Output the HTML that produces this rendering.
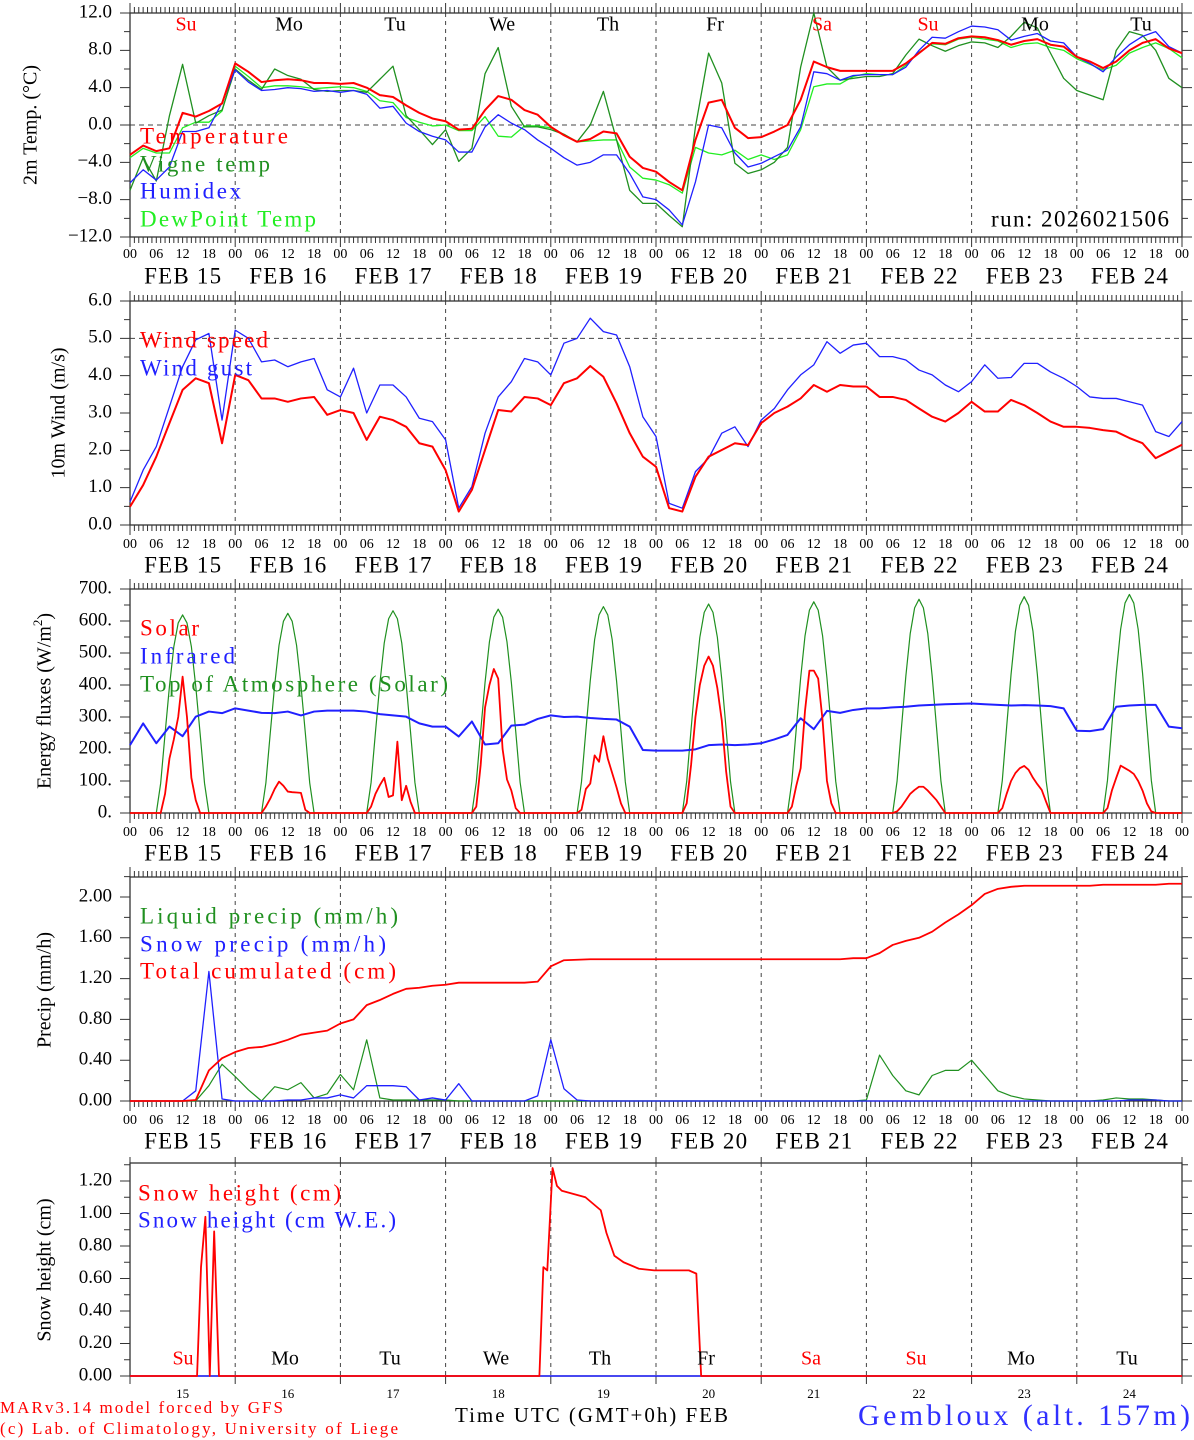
<!DOCTYPE html>
<html><head><meta charset="utf-8"><title>Meteogram Gembloux</title>
<style>
html,body{margin:0;padding:0;background:#fff;}
svg{display:block;font-family:"Liberation Serif",serif;}
</style></head>
<body>
<svg id="chart" width="1194" height="1440" viewBox="0 0 1194 1440" xmlns="http://www.w3.org/2000/svg">
<g id="grid"></g>
<g id="axes"></g>
<g id="series"></g>
<g id="labels" font-family="Liberation Serif, serif">
  <!-- Panel 1 -->
  <text x="32" y="125" transform="rotate(-90 32 125)" text-anchor="middle" dominant-baseline="middle" font-size="20">2m Temp. (°C)</text>
  <g font-size="20" dominant-baseline="middle" text-anchor="middle">
    <text x="186" y="26" fill="#f00">Su</text>
    <text x="289" y="26">Mo</text>
    <text x="395" y="26">Tu</text>
    <text x="502" y="26">We</text>
    <text x="608" y="26">Th</text>
    <text x="715" y="26">Fr</text>
    <text x="822" y="26" fill="#f00">Sa</text>
    <text x="928" y="26" fill="#f00">Su</text>
    <text x="1035" y="26">Mo</text>
    <text x="1141" y="26">Tu</text>
  </g>
  <g font-size="23" dominant-baseline="middle">
    <text x="140" y="138" fill="#f00" textLength="148" lengthAdjust="spacing">Temperature</text>
    <text x="140" y="166" fill="#209020" textLength="130" lengthAdjust="spacing">Vigne temp</text>
    <text x="140" y="193" fill="#2020ff" textLength="101" lengthAdjust="spacing">Humidex</text>
    <text x="140" y="221" fill="#22ee22" textLength="176" lengthAdjust="spacing">DewPoint Temp</text>
    <text x="991" y="221" fill="#000" textLength="178" lengthAdjust="spacing">run: 2026021506</text>
  </g>
  <!-- Panel 2 -->
  <text x="60" y="413" transform="rotate(-90 60 413)" text-anchor="middle" dominant-baseline="middle" font-size="20">10m Wind (m/s)</text>
  <g font-size="23" dominant-baseline="middle">
    <text x="140" y="342" fill="#f00" textLength="128" lengthAdjust="spacing">Wind speed</text>
    <text x="140" y="370" fill="#2020ff" textLength="112" lengthAdjust="spacing">Wind gust</text>
  </g>
  <!-- Panel 3 -->
  <text x="46" y="701" transform="rotate(-90 46 701)" text-anchor="middle" dominant-baseline="middle" font-size="20">Energy fluxes (W/m<tspan font-size="13" dy="-7">2</tspan><tspan dy="7">)</tspan></text>
  <g font-size="23" dominant-baseline="middle">
    <text x="140" y="630" fill="#f00" textLength="59" lengthAdjust="spacing">Solar</text>
    <text x="140" y="658" fill="#2020ff" textLength="95" lengthAdjust="spacing">Infrared</text>
    <text x="140" y="686" fill="#209020" textLength="308" lengthAdjust="spacing">Top of Atmosphere (Solar)</text>
  </g>
  <!-- Panel 4 -->
  <text x="46" y="990" transform="rotate(-90 46 990)" text-anchor="middle" dominant-baseline="middle" font-size="20">Precip (mm/h)</text>
  <g font-size="23" dominant-baseline="middle">
    <text x="140" y="918" fill="#209020" textLength="258" lengthAdjust="spacing">Liquid precip (mm/h)</text>
    <text x="140" y="946" fill="#2020ff" textLength="246" lengthAdjust="spacing">Snow precip (mm/h)</text>
    <text x="140" y="973" fill="#f00" textLength="256" lengthAdjust="spacing">Total cumulated (cm)</text>
  </g>
  <!-- Panel 5 -->
  <text x="46" y="1270" transform="rotate(-90 46 1270)" text-anchor="middle" dominant-baseline="middle" font-size="20">Snow height (cm)</text>
  <g font-size="23" dominant-baseline="middle">
    <text x="138" y="1195" fill="#f00" textLength="203" lengthAdjust="spacing">Snow height (cm)</text>
    <text x="138" y="1222" fill="#2020ff" textLength="258" lengthAdjust="spacing">Snow height (cm W.E.)</text>
  </g>
  <g font-size="20" dominant-baseline="middle" text-anchor="middle">
    <text x="183" y="1360" fill="#f00">Su</text>
    <text x="285" y="1360">Mo</text>
    <text x="390" y="1360">Tu</text>
    <text x="496" y="1360">We</text>
    <text x="600" y="1360">Th</text>
    <text x="706" y="1360">Fr</text>
    <text x="811" y="1360" fill="#f00">Sa</text>
    <text x="916" y="1360" fill="#f00">Su</text>
    <text x="1021" y="1360">Mo</text>
    <text x="1127" y="1360">Tu</text>
  </g>
  <text x="0" y="1409" fill="#f00" font-size="17" textLength="283" lengthAdjust="spacing" dominant-baseline="middle">MARv3.14 model forced by GFS</text>
  <text x="0" y="1430" fill="#f00" font-size="17" textLength="398" lengthAdjust="spacing" dominant-baseline="middle">(c) Lab. of Climatology, University of Liege</text>
  <text x="455" y="1417" font-size="21" textLength="273" lengthAdjust="spacing" dominant-baseline="middle">Time UTC (GMT+0h) FEB</text>
  <text x="858" y="1418" fill="#3030ff" font-size="30" textLength="332" lengthAdjust="spacing" dominant-baseline="middle">Gembloux (alt. 157m)</text>
</g>
</svg>
<script>
// ===== DATA (3-hourly, index 0 = FEB 15 00 UTC) =====
const dayNumbers = ["15","16","17","18","19","20","21","22","23","24"];
const hourLabels = ["00","06","12","18"];
const tempTicks = [12,8,4,0,-4,-8,-12];
const windTicks = [6,5,4,3,2,1,0];
const energyTicks = [700,600,500,400,300,200,100,0];
const precipTicks = [2.0,1.6,1.2,0.8,0.4,0.0];
const snowTicks = [1.2,1.0,0.8,0.6,0.4,0.2,0.0];

const temperature = [-3.2,-2.2,-2.8,-2.5,1.3,0.9,1.5,2.3,6.6,
 5.7,4.6,4.8,4.9,4.8,4.5,4.5,4.4,
 4.5,4.0,3.2,3.0,2.1,1.3,0.7,0.4,
 -0.5,-0.4,1.6,3.1,2.7,1.6,1.1,-0.2,
 -1.1,-1.8,-1.5,-0.7,-0.9,-3.4,-4.6,-5.0,
 -6.1,-7.0,-1.6,2.4,2.7,-0.3,-1.4,-1.3,
 -0.7,0.0,2.7,6.8,6.2,5.8,5.8,5.8,
 5.8,5.8,6.6,7.7,8.8,8.7,9.3,9.5,
 9.4,9.1,8.6,9.0,9.2,8.6,8.4,7.3,
 6.8,6.1,6.8,8.0,8.8,9.2,8.2,7.7];
const humidex = [-6.2,-4.8,-5.9,-4.5,-0.7,-0.7,-0.3,2.4,5.9,
 4.6,3.7,3.8,4.0,3.9,3.6,3.7,3.5,
 3.7,3.3,1.8,2.0,0.2,-0.7,-1.2,-1.6,
 -2.9,-2.9,-0.2,1.1,0.2,-0.5,-1.6,-2.5,
 -3.5,-4.3,-4.0,-3.2,-3.2,-5.2,-7.7,-8.0,
 -9.1,-10.7,-6.1,0.0,-0.3,-3.0,-4.5,-4.1,
 -3.4,-2.7,-0.2,5.7,5.5,4.8,5.3,5.4,
 5.4,5.4,6.2,8.0,9.4,9.3,10.0,10.6,
 10.5,10.2,9.1,9.5,9.8,9.0,8.8,7.3,
 6.6,5.7,7.3,8.6,9.5,10.0,8.4,7.7];
const dewpoint = [-3.5,-2.5,-3.0,-3.0,-0.3,0.3,0.3,1.5,6.3,
 5.2,4.0,4.2,4.2,4.1,3.9,4.0,4.1,
 4.0,3.6,2.6,2.4,0.8,0.3,-0.1,0.0,
 -0.6,-0.6,0.9,-1.2,-1.3,-0.1,-0.1,-0.3,
 -1.0,-1.8,-1.7,-1.6,-1.6,-4.5,-5.7,-5.9,
 -6.4,-7.3,-2.4,-3.0,-3.2,-2.7,-3.7,-3.2,
 -3.7,-3.2,-0.5,4.1,4.4,4.4,5.2,5.5,
 5.4,5.4,6.4,7.8,8.7,8.6,9.2,9.4,
 9.2,9.0,8.3,8.7,8.8,8.3,8.0,7.1,
 6.5,5.9,6.4,7.7,8.3,8.8,8.2,7.2];
const vigneTemp = [-7.0,-3.5,-6.0,1.0,6.5,0.2,1.0,1.6,6.0,
 4.8,3.8,6.0,5.3,4.9,3.8,3.6,3.7,
 3.7,3.5,4.9,6.3,1.0,-0.5,-2.1,-0.5,
 -3.9,-2.5,5.5,8.3,2.0,-0.2,-0.2,-0.5,
 -1.0,-1.8,0.0,3.6,-1.6,-7.0,-8.4,-8.4,
 -9.7,-10.9,-0.2,7.7,4.5,-4.1,-5.2,-4.8,
 -4.0,-2.4,6.2,12.0,6.2,4.8,5.0,5.2,
 5.2,5.5,7.5,9.2,8.5,7.9,8.5,8.9,
 8.8,8.3,9.5,11.0,10.4,7.7,5.0,3.7,
 3.2,2.7,8.0,10.0,9.6,8.0,5.0,4.0];

const windSpeed = [0.49,1.07,1.83,2.73,3.62,3.93,3.80,2.19,4.02,
 3.88,3.39,3.39,3.30,3.39,3.43,2.95,3.08,
 3.0,2.28,2.90,2.81,2.63,2.19,2.10,1.47,
 0.36,0.94,2.01,3.08,3.04,3.43,3.39,3.21,
 3.80,3.93,4.26,3.97,3.26,2.46,1.83,1.56,
 0.45,0.36,1.29,1.83,2.01,2.19,2.14,2.73,
 3.0,3.17,3.39,3.75,3.57,3.75,3.71,3.71,
 3.43,3.43,3.35,3.12,2.9,2.77,3.0,3.30,
 3.04,3.04,3.35,3.21,3.0,2.77,2.63,2.63,
 2.6,2.54,2.5,2.33,2.19,1.79,1.97,2.15];
const windGust = [0.62,1.47,2.10,3.17,4.24,4.96,5.13,2.81,5.22,
 5.0,4.37,4.42,4.24,4.37,4.46,3.62,3.43,
 4.2,3.0,3.75,3.75,3.43,2.86,2.77,2.28,
 0.45,1.03,2.46,3.43,3.84,4.46,4.37,4.02,
 4.87,5.0,5.54,5.18,5.09,4.24,2.90,2.37,
 0.58,0.45,1.43,1.79,2.46,2.63,2.10,2.81,
 3.12,3.62,4.02,4.29,4.91,4.60,4.82,4.87,
 4.51,4.51,4.42,4.15,4.02,3.75,3.57,3.84,
 4.29,3.93,3.95,4.33,4.33,4.1,3.93,3.71,
 3.43,3.39,3.39,3.30,3.21,2.5,2.37,2.77];

const infrared = [212,280,218,270,240,301,317,312,327,
 320,313,312,317,305,317,320,320,
 320,317,309,305,301,280,270,270,
 239,286,214,218,273,276,294,305,
 300,301,297,294,292,270,197,195,
 195,195,199,212,214,212,214,218,
 230,244,296,262,319,313,322,327,
 327,330,332,336,338,340,341,342,
 340,338,336,337,336,334,327,257,
 256,262,332,336,338,338,270,265];

// hourly daytime values, hours 06..18 for each day
const solarDaily = [
 [0,0,60,170,230,300,426,300,110,40,0,0,0],
 [0,20,45,75,98,85,67,65,64,63,10,0,0],
 [0,20,60,87,110,50,55,223,40,85,35,0,0],
 [0,20,150,330,400,450,420,200,105,70,15,0,0],
 [0,10,75,92,180,160,240,170,125,80,30,0,0],
 [0,30,150,300,400,460,489,460,390,290,130,20,0],
 [0,20,85,140,320,445,445,420,290,100,30,0,0],
 [0,5,20,40,60,72,82,82,70,55,40,20,0],
 [0,15,60,100,125,140,147,135,110,90,72,35,0],
 [0,15,70,110,148,140,132,122,100,70,30,5,0]];
const toaDaily = [
 [0,93,248,396,520,594,619,594,520,396,248,93,0],
 [0,94,250,399,524,599,624,599,524,399,250,94,0],
 [0,95,253,404,531,607,632,607,531,404,253,95,0],
 [0,96,255,408,535,612,637,612,535,408,255,96,0],
 [0,97,258,413,542,619,645,619,542,413,258,97,0],
 [0,98,261,418,549,627,653,627,549,418,261,98,0],
 [0,99,264,422,554,634,660,634,554,422,264,99,0],
 [0,100,267,428,561,641,668,641,561,428,267,100,0],
 [0,101,270,433,568,649,676,649,568,433,270,101,0],
 [0,102,273,437,574,656,683,656,574,437,273,102,0]];

const liquidPrecip = [0,0,0,0,0,0,0.15,0.36,0.24,
 0.11,0,0.14,0.11,0.18,0.03,0.07,0.26,
 0.11,0.6,0.03,0.01,0.01,0.01,0.01,0.01,
 0,0,0,0,0,0,0,0,
 0,0,0,0,0,0,0,0,
 0,0,0,0,0,0,0,0,
 0,0,0,0,0,0,0,0.01,
 0.45,0.25,0.1,0.06,0.25,0.3,0.3,0.4,
 0.25,0.1,0.05,0.02,0.01,0,0,0,
 0,0.01,0.03,0.02,0.02,0.01,0,0];
const snowPrecip = [0,0,0,0,0,0.1,1.27,0.02,0,
 0,0,0,0.01,0.01,0.03,0.03,0.06,
 0.03,0.15,0.15,0.15,0.14,0.01,0.03,0.01,
 0.17,0,0,0,0,0,0.05,0.6,
 0.12,0.01,0,0,0,0,0,0,
 0,0,0,0,0,0,0,0,
 0,0,0,0,0,0,0,0,
 0,0,0,0,0,0,0,0,
 0,0,0,0,0,0,0,0,
 0,0,0,0.01,0.01,0.01,0,0];
const totalCumulated = [0,0,0,0,0,0.01,0.30,0.42,0.48,
 0.52,0.53,0.56,0.60,0.65,0.67,0.69,0.76,
 0.80,0.94,0.99,1.05,1.10,1.11,1.13,1.14,
 1.16,1.16,1.16,1.16,1.16,1.16,1.17,1.32,
 1.38,1.385,1.39,1.39,1.39,1.39,1.39,1.39,
 1.39,1.39,1.39,1.39,1.39,1.39,1.39,1.39,
 1.39,1.39,1.39,1.39,1.39,1.39,1.40,1.40,
 1.45,1.53,1.57,1.60,1.66,1.75,1.83,1.92,
 2.03,2.08,2.10,2.11,2.11,2.11,2.11,2.11,
 2.11,2.12,2.12,2.12,2.12,2.12,2.13,2.13];

// snow height: event times (hours since FEB 15 00) and values
const snowHours = [0,15.3,16.2,17.2,18.2,19.2,20.3,93.4,94.3,95.2,96.4,97.4,98.5,103.9,107.4,108.7,110.5,112.6,116.1,119.6,127.5,129.2,130.3,240];
const snowHeight = [0,0,0.67,0.98,0,0.89,0,0,0.67,0.65,1.28,1.17,1.14,1.10,1.02,0.88,0.74,0.70,0.66,0.65,0.65,0.63,0,0];
const snowWE = [0,0,0,0,0,0,0,0,0,0,0,0,0,0,0,0,0,0,0,0,0,0,0,0];

// ===== AXES =====
const NS = "http://www.w3.org/2000/svg";
const X0 = 130, X1 = 1182;
function xh(h){ return X0 + h*(X1-X0)/240; }
function lin(v0,p0,v1,p1){ return v => p0 + (v-v0)*(p1-p0)/(v1-v0); }
const panels = [
 {key:"temp", top:13, bottom:237, y:lin(-12,237,12,13), ticks:tempTicks, minor:2, lo:-12, hi:12, fmt:v=>(v<0?"\u2212":"")+Math.abs(v).toFixed(1), hourRow:255, dateRow:278, hourly:true, zero:0},
 {key:"wind", top:301, bottom:525, y:lin(0,525,6,301), ticks:windTicks, minor:0.5, lo:0, hi:6, fmt:v=>v.toFixed(1), hourRow:545, dateRow:567, hourly:true, zero:5},
 {key:"energy", top:589, bottom:813, y:lin(0,813,700,589), ticks:energyTicks, minor:50, lo:0, hi:700, fmt:v=>v+".", hourRow:833, dateRow:855, hourly:true},
 {key:"precip", top:877, bottom:1101, y:lin(0,1101,2,897), ticks:precipTicks, minor:0.2, lo:0, hi:2.2, fmt:v=>v.toFixed(2), hourRow:1121, dateRow:1143, hourly:true},
 {key:"snow", top:1163, bottom:1376, y:lin(0,1376,1.2,1181), ticks:snowTicks, minor:0.1, lo:0, hi:1.3, fmt:v=>v.toFixed(2), hourly:false}
];
const gAxes = document.getElementById("axes");
const gGrid = document.getElementById("grid");
const gSeries = document.getElementById("series");
function mk(tag, attrs, parent){
  const el = document.createElementNS(NS, tag);
  for (const k in attrs) el.setAttribute(k, attrs[k]);
  parent.appendChild(el);
  return el;
}
let tickPath = "";
panels.forEach(p => {
  const frame = mk("rect", {x:X0, y:p.top, width:X1-X0, height:p.bottom-p.top, fill:"none", stroke:"#333", "stroke-width":1.3}, gAxes);
  
  
  for (let d=1; d<10; d++){
    const gx = xh(24*d);
    const ln = mk("line", {x1:gx, x2:gx, y1:p.top, y2:p.bottom, stroke:"#444", "stroke-width":1, "stroke-dasharray":"4 4"}, gGrid);
    
    
  }
  if (p.zero !== undefined){
    const yz = p.y(p.zero);
    const hl = mk("line", {x1:X0, x2:X1, y1:yz, y2:yz, stroke:"#444", "stroke-width":1, "stroke-dasharray":"5 4"}, gGrid);
    
    
  }
  if (p.hourly){
    for (let h=0; h<=240; h++){
      const tx = xh(h);
      const L = (h%24===0) ? 10 : 6;
      tickPath += `M${tx},${p.top}v${-L}M${tx},${p.bottom}v${L}`;
    }
  } else {
    for (let d=0; d<=10; d++){
      const tx = xh(24*d);
      tickPath += `M${tx},${p.top}v${-6}M${tx},${p.bottom}v${8}`;
    }
  }
  for (let v=p.lo; v<=p.hi+1e-9; v+=p.minor){
    const ty = p.y(v);
    if (ty < p.top-0.5) continue;
    const major = p.ticks.some(t => Math.abs(t-v) < 1e-6);
    const L = major ? 10 : 6;
    tickPath += `M${X0},${ty}h${-L}M${X1},${ty}h${L}`;
  }
  p.ticks.forEach(t => {
    const tl = mk("text", {x:112, y:p.y(t), "text-anchor":"end", "dominant-baseline":"middle", "font-size":19}, gAxes);
    tl.textContent = p.fmt(t);
    
    
  });
  if (p.hourRow){
    for (let d=0; d<10; d++){
      hourLabels.forEach((hl, k) => {
        const t = mk("text", {x:xh(24*d+6*k), y:p.hourRow, "text-anchor":"middle", "dominant-baseline":"middle", "font-size":14}, gAxes);
        t.textContent = hl;
        
        
      });
      const dl = mk("text", {x:xh(24*d+12), y:p.dateRow, "text-anchor":"middle", "dominant-baseline":"middle", "font-size":23, textLength:77, lengthAdjust:"spacing"}, gAxes);
      dl.textContent = "FEB " + dayNumbers[d];
      
      
    }
    const last = mk("text", {x:xh(240), y:p.hourRow, "text-anchor":"middle", "dominant-baseline":"middle", "font-size":14}, gAxes);
    last.textContent = "00";
    
    
  } else {
    for (let d=0; d<10; d++){
      const dn = mk("text", {x:xh(24*d+12), y:1395, "text-anchor":"middle", "dominant-baseline":"middle", "font-size":13}, gAxes);
      dn.textContent = dayNumbers[d];
      
      
    }
  }
});
const ticks = mk("path", {d:tickPath, stroke:"#333", "stroke-width":1, fill:"none"}, gAxes);



// ===== SERIES =====
function line3h(arr, p, color, w, name){
  const d = arr.map((v,i) => (i?"L":"M") + xh(3*i).toFixed(2) + "," + p.y(v).toFixed(2)).join("");
  const el = mk("path", {d:d, fill:"none", stroke:color, "stroke-width":w, "stroke-linejoin":"round"}, gSeries);
  
  
}
function lineDaily(days, p, color, w, name){
  let d = "M" + xh(0) + "," + p.y(0);
  days.forEach((vals, di) => {
    vals.forEach((v,k) => { d += "L" + xh(24*di+6+k).toFixed(2) + "," + p.y(v).toFixed(2); });
  });
  d += "L" + xh(240) + "," + p.y(0);
  const el = mk("path", {d:d, fill:"none", stroke:color, "stroke-width":w, "stroke-linejoin":"round"}, gSeries);
  
  
}
function lineXY(hours, vals, p, color, w, name){
  const d = vals.map((v,i) => (i?"L":"M") + xh(hours[i]).toFixed(2) + "," + p.y(v).toFixed(2)).join("");
  const el = mk("path", {d:d, fill:"none", stroke:color, "stroke-width":w, "stroke-linejoin":"round"}, gSeries);
  
  
}
const [P1,P2,P3,P4,P5] = panels;
line3h(dewpoint, P1, "#22ee22", 1.3, "dewpoint-line");
line3h(vigneTemp, P1, "#209020", 1.3, "vigne-temp-line");
line3h(humidex, P1, "#2020ff", 1.3, "humidex-line");
line3h(temperature, P1, "#ff0000", 2, "temperature-line");

line3h(windGust, P2, "#2020ff", 1.3, "wind-gust-line");
line3h(windSpeed, P2, "#ff0000", 2, "wind-speed-line");

lineDaily(toaDaily, P3, "#209020", 1.2, "toa-solar-line");
line3h(infrared, P3, "#2020ff", 2, "infrared-line");
lineDaily(solarDaily, P3, "#ff0000", 1.8, "solar-line");

line3h(liquidPrecip, P4, "#209020", 1.2, "liquid-precip-line");
line3h(snowPrecip, P4, "#2020ff", 1.3, "snow-precip-line");
line3h(totalCumulated, P4, "#ff0000", 1.8, "total-cumulated-line");

lineXY(snowHours, snowWE, P5, "#2020ff", 1.5, "snow-we-line");
lineXY(snowHours, snowHeight, P5, "#ff0000", 1.8, "snow-height-line");
</script>
</body></html>
